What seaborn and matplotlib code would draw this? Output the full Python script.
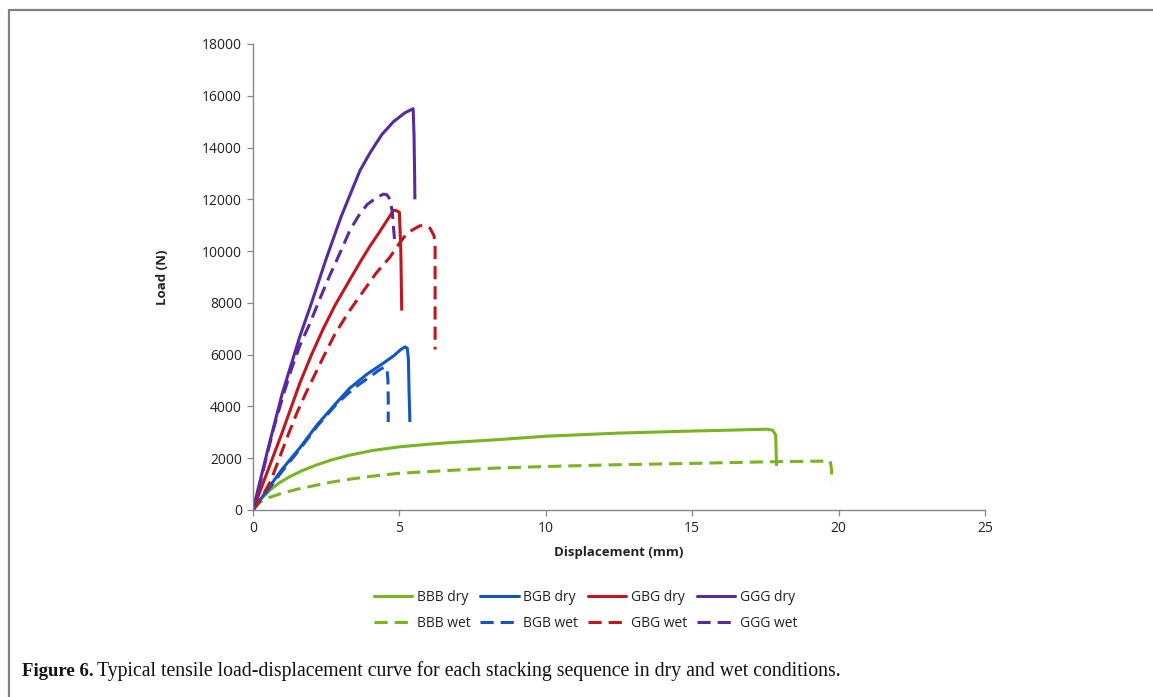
import matplotlib
matplotlib.use("Agg")
import matplotlib.pyplot as plt
import seaborn as sns
import pandas as pd
from matplotlib.lines import Line2D

# ---- data ----
bbb_dry_x = [0, 0.3, 0.58, 0.9, 1.26, 1.7, 2.17, 2.7, 3.31, 4.1, 5.0, 6.0, 6.7, 8.4, 10, 12.5, 15, 16.5, 17.55, 17.75, 17.85, 17.88]
bbb_dry_y = [0, 450, 770, 1050, 1290, 1530, 1740, 1940, 2120, 2300, 2440, 2540, 2600, 2720, 2850, 2970, 3050, 3090, 3120, 3080, 2900, 1700]

bbb_wet_x = [0, 0.2, 0.35, 0.6, 1.0, 1.5, 2.17, 2.7, 3.31, 4.1, 5.0, 6.72, 8.3, 10, 12.5, 15, 17.5, 19.6, 19.72, 19.76, 19.76]
bbb_wet_y = [0, 250, 390, 500, 650, 800, 960, 1080, 1190, 1310, 1420, 1530, 1620, 1680, 1750, 1800, 1860, 1890, 1880, 1540, 1100]

bgb_dry_x = [0, 0.5, 1.0, 1.6, 2.2, 2.86, 3.3, 3.9, 4.45, 4.8, 5.05, 5.19, 5.27, 5.31, 5.33, 5.36]
bgb_dry_y = [0, 800, 1580, 2400, 3300, 4150, 4700, 5250, 5670, 5950, 6200, 6300, 6250, 5800, 4600, 3400]

bgb_wet_x = [0, 0.5, 1.0, 1.6, 2.2, 2.9, 3.5, 4.0, 4.3, 4.51, 4.58, 4.61, 4.62, 4.62]
bgb_wet_y = [0, 750, 1500, 2350, 3250, 4150, 4750, 5150, 5400, 5530, 5450, 5000, 4200, 3400]

gbg_dry_x = [0, 0.5, 1.0, 1.6, 2.0, 2.4, 2.8, 3.3, 3.7, 4.0, 4.3, 4.5, 4.7, 4.79, 4.9, 5.0, 5.05, 5.08]
gbg_dry_y = [0, 1500, 3000, 4900, 6000, 7000, 7900, 8880, 9650, 10200, 10700, 11050, 11400, 11580, 11560, 11500, 10000, 7700]

gbg_wet_x = [0, 0.3, 0.6, 0.9, 1.2, 1.5, 1.8, 2.1, 2.4, 2.8, 3.3, 3.8, 4.2, 4.68, 5.0, 5.2, 5.42, 5.7, 5.9, 6.05, 6.18, 6.22, 6.22]
gbg_wet_y = [0, 500, 1100, 2000, 2900, 3750, 4500, 5200, 5900, 6800, 7700, 8500, 9140, 9770, 10300, 10600, 10800, 10980, 10980, 10880, 10600, 10300, 6200]

ggg_dry_x = [0, 0.5, 1.0, 1.6, 2.0, 2.5, 3.0, 3.65, 4.0, 4.4, 4.8, 5.2, 5.47, 5.5, 5.52, 5.53]
ggg_dry_y = [0, 2300, 4500, 6700, 8000, 9700, 11300, 13100, 13800, 14500, 15000, 15350, 15500, 14500, 13000, 12000]

ggg_wet_x = [0, 0.3, 0.69, 1.0, 1.3, 1.6, 1.95, 2.3, 2.6, 3.0, 3.31, 3.6, 3.9, 4.2, 4.45, 4.57, 4.68, 4.76, 4.8, 4.85]
ggg_wet_y = [0, 1300, 3090, 4300, 5400, 6350, 7220, 8200, 9000, 10000, 10800, 11350, 11800, 12050, 12200, 12180, 12000, 11500, 10900, 10250]

series_names = ["BBB dry", "BGB dry", "GBG dry", "GGG dry",
                "BBB wet", "BGB wet", "GBG wet", "GGG wet"]
series_x = [bbb_dry_x, bgb_dry_x, gbg_dry_x, ggg_dry_x,
            bbb_wet_x, bgb_wet_x, gbg_wet_x, ggg_wet_x]
series_y = [bbb_dry_y, bgb_dry_y, gbg_dry_y, ggg_dry_y,
            bbb_wet_y, bgb_wet_y, gbg_wet_y, ggg_wet_y]

x_ticks = [0, 5, 10, 15, 20, 25]
y_ticks = list(range(0, 18001, 2000))

# ---- styling ----
colors = {"BBB": "#78B51E", "BGB": "#1355C2", "GBG": "#C0171F", "GGG": "#5A2A9C"}
LW = 2.2
DASH = [4.3, 2.3]

sns.set_theme(style="white")
plt.rcParams["font.family"] = ["Open Sans", "DejaVu Sans"]

fig = plt.figure(figsize=(11.53, 6.97), dpi=100)
ax = fig.add_axes([0.2194, 0.2683, 0.6349, 0.6686])

rows = []
for name, xs, ys in zip(series_names, series_x, series_y):
    for i, (xv, yv) in enumerate(zip(xs, ys)):
        rows.append({"series": name, "order": i, "x": xv, "y": yv})
df = pd.DataFrame(rows)

handles = {}
for name in series_names:
    sub = df[df["series"] == name]
    col = colors[name.split()[0]]
    wet = name.endswith("wet")
    sns.lineplot(data=sub, x="x", y="y", sort=False, estimator=None, ax=ax,
                 color=col, linewidth=LW, legend=False)
    line = ax.get_lines()[-1]
    if wet:
        line.set_dashes(DASH)
    line.set_solid_capstyle("butt")
    line.set_dash_capstyle("butt")
    line.set_solid_joinstyle("round")
    h = Line2D([], [], color=col, linewidth=LW,
               linestyle=(0, tuple(DASH)) if wet else "-")
    handles[name] = h

ax.set_xlim(0, 25)
ax.set_ylim(0, 18000)
ax.set_xticks(x_ticks)
ax.set_yticks(y_ticks)
ax.tick_params(axis="both", labelsize=10, labelcolor="#222222", color="#868686",
               length=4, width=0.9, direction="out", bottom=True, left=True, pad=4)
for s in ["top", "right"]:
    ax.spines[s].set_visible(False)
for s in ["left", "bottom"]:
    ax.spines[s].set_color("#868686")
    ax.spines[s].set_linewidth(1.0)
ax.set_xlabel("Displacement (mm)", fontsize=9.5, fontweight="bold", color="#222222", labelpad=7)
ax.set_ylabel("Load (N)", fontsize=9.5, fontweight="bold", color="#222222", labelpad=24)

# legend: two rows (dry / wet), four columns; matplotlib fills column-wise
leg_order = []
for grp in ["BBB", "BGB", "GBG", "GGG"]:
    leg_order += [grp + " dry", grp + " wet"]
leg = fig.legend([handles[n] for n in leg_order], leg_order, loc="center", ncol=4,
                 bbox_to_anchor=(0.508, 0.124), frameon=False, fontsize=10,
                 handlelength=2.75, handletextpad=0.35, columnspacing=0.7,
                 labelspacing=0.8)
for t in leg.get_texts():
    t.set_color("#222222")

# frame lines of the figure panel
fig.add_artist(Line2D([9 / 1153, 9 / 1153], [0, 1 - 10 / 697], color="#808080", linewidth=1.6,
                      transform=fig.transFigure))
fig.add_artist(Line2D([9 / 1153, 1], [1 - 10 / 697, 1 - 10 / 697], color="#808080", linewidth=1.6,
                      transform=fig.transFigure))

# caption
fig.text(22 / 1153, 1 - 671 / 697, "Figure 6.", fontsize=13.5, fontweight="bold",
         family=["Liberation Serif", "DejaVu Serif"], va="center", ha="left", color="#111111")
fig.text(97 / 1153, 1 - 671 / 697,
         "Typical tensile load-displacement curve for each stacking sequence in dry and wet conditions.",
         fontsize=14.2, family=["Liberation Serif", "DejaVu Serif"], va="center", ha="left", color="#111111")

fig.savefig("out.png", dpi=100)
